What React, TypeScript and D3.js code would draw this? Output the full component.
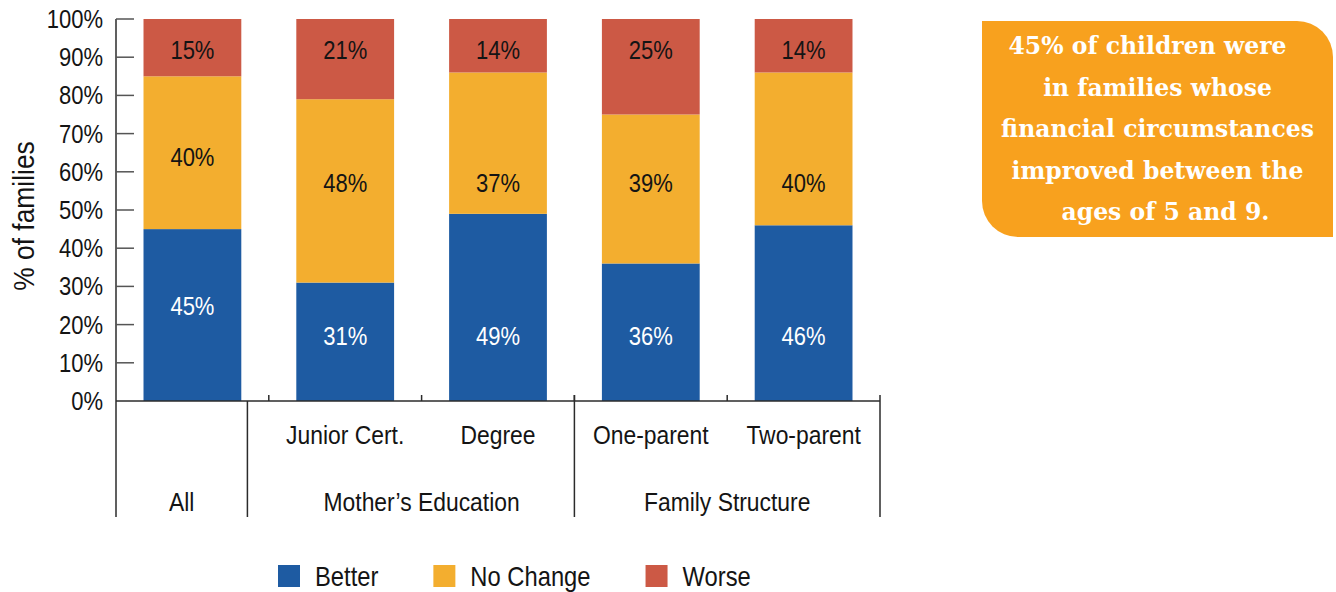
import React, { useEffect, useRef } from "react";
import * as d3 from "d3";

// chart data
const categories = ["All", "Junior Cert.", "Degree", "One-parent", "Two-parent"];
const betterValues = [45, 31, 49, 36, 46];
const noChangeValues = [40, 48, 37, 39, 40];
const worseValues = [15, 21, 14, 25, 14];
const seriesNames = ["Better", "No Change", "Worse"];
const seriesColors = ["#1e5ba2", "#f3ae2f", "#cc5945"];
const labelColors = ["#ffffff", "#141414", "#141414"];
const groupNames = ["All", "Mother\u2019s Education", "Family Structure"];
const groupMembers = [["All"], ["Junior Cert.", "Degree"], ["One-parent", "Two-parent"]];
const yTicks = [0, 10, 20, 30, 40, 50, 60, 70, 80, 90, 100];
const calloutLines = [
  "45% of children were",
  "in families whose",
  "financial circumstances",
  "improved between the",
  "ages of 5 and 9.",
];

const FONT = "'Liberation Sans', Arial, sans-serif";
const SX = 0.88; // squeeze the sans to look like a condensed face

// condensed text helper
function addText(
  parent: d3.Selection<any, unknown, null, undefined>,
  x: number,
  y: number,
  text: string,
  size: number,
  anchor = "middle",
  fill = "#141414",
  rotate = 0
) {
  return parent
    .append("text")
    .attr("transform", `translate(${x},${y}) rotate(${rotate}) scale(${SX},1)`)
    .attr("text-anchor", anchor)
    .style("font-family", FONT)
    .style("font-size", `${size}px`)
    .attr("fill", fill)
    .text(text);
}

const App: React.FC = () => {
  const svgRef = useRef<SVGSVGElement>(null);

  useEffect(() => {
    document.body.style.margin = "0";
    if (!svgRef.current) return;
    const svg = d3.select(svgRef.current);
    svg.selectAll("*").remove();

    const width = 1336;
    const height = 592;
    const left = 116;
    const right = 880;
    const top = 19;
    const bottom = 401;
    const axisBottom = 517;
    const axisColor = "#2b2b2b";

    svg.attr("width", width).attr("height", height);

    const x = d3.scaleBand<string>().domain(categories).range([left, right]).paddingInner(0.36).paddingOuter(0.18);
    const y = d3.scaleLinear().domain([0, 100]).range([bottom, top]);

    // stacked bars
    const rows = categories.map((c, i) => ({
      cat: c,
      Better: betterValues[i],
      "No Change": noChangeValues[i],
      Worse: worseValues[i],
    }));
    const stack = d3.stack<any>().keys(seriesNames)(rows);

    // labels sit at fixed heights in the original, the "All" column a bit higher
    const labelLevel = (si: number, cat: string) =>
      cat === "All" ? [25, 64, 92][si] : [17, 57, 92][si];

    stack.forEach((layer, si) => {
      const g = svg.append("g");
      layer.forEach((d) => {
        const cat = d.data.cat;
        g.append("rect")
          .attr("x", x(cat)!)
          .attr("y", y(d[1]))
          .attr("width", x.bandwidth())
          .attr("height", y(d[0]) - y(d[1]))
          .attr("fill", seriesColors[si]);
        addText(g, x(cat)! + x.bandwidth() / 2, y(labelLevel(si, cat)) + 9, `${d[1] - d[0]}%`, 25, "middle", labelColors[si]);
      });
    });

    // y axis
    svg.append("line")
      .attr("x1", left).attr("x2", left)
      .attr("y1", y(100)).attr("y2", axisBottom)
      .attr("stroke", axisColor).attr("stroke-width", 1.5);
    yTicks.forEach((t) => {
      if (t > 0) {
        svg.append("line")
          .attr("x1", left).attr("x2", left + 18)
          .attr("y1", y(t)).attr("y2", y(t))
          .attr("stroke", "#555").attr("stroke-width", 1.5);
      }
      addText(svg, 103, y(t) + 9, `${t}%`, 25, "end");
    });

    addText(svg, 34, (top + bottom) / 2 + 6, "% of families", 30, "middle", "#141414", -90);

    // x axis
    svg.append("line")
      .attr("x1", left).attr("x2", right)
      .attr("y1", bottom).attr("y2", bottom)
      .attr("stroke", axisColor).attr("stroke-width", 1.5);

    const step = x.step();
    const half = (step * x.paddingInner()) / 2;
    categories.slice(1).forEach((c) => {
      svg.append("line")
        .attr("x1", x(c)! - half).attr("x2", x(c)! - half)
        .attr("y1", bottom - 6).attr("y2", bottom)
        .attr("stroke", axisColor).attr("stroke-width", 1.5);
    });
    svg.append("line")
      .attr("x1", right).attr("x2", right)
      .attr("y1", bottom - 6).attr("y2", axisBottom)
      .attr("stroke", axisColor).attr("stroke-width", 1.5);

    groupNames.forEach((name, gi) => {
      const members = groupMembers[gi];
      const first = members[0];
      // group separator on the left (the first one sits a bit left of the band gap)
      let sepLeft = left;
      if (gi > 0) {
        sepLeft = x(first)! - half - (gi === 1 ? step * 0.14 : 0);
        svg.append("line")
          .attr("x1", sepLeft).attr("x2", sepLeft)
          .attr("y1", bottom - (gi === 1 ? 0 : 6)).attr("y2", axisBottom)
          .attr("stroke", axisColor).attr("stroke-width", 1.5);
      }
      let cx: number;
      if (members.length === 1) {
        const next = groupMembers[gi + 1][0];
        const sepRight = x(next)! - half - step * 0.14;
        cx = (sepLeft + sepRight) / 2;
      } else {
        cx = d3.mean(members, (m) => x(m)! + x.bandwidth() / 2)!;
        members.forEach((m) => {
          addText(svg, x(m)! + x.bandwidth() / 2, 444, m, 26);
        });
      }
      addText(svg, cx, 511, name, 26);
    });

    // legend
    const legend = svg.append("g");
    let lx = 278;
    seriesNames.forEach((s, i) => {
      legend.append("rect")
        .attr("x", lx).attr("y", 565)
        .attr("width", 22).attr("height", 22)
        .attr("fill", seriesColors[i]);
      const t = addText(legend, lx + 37, 586, s, 27, "start");
      const w = (t.node() as SVGTextElement).getComputedTextLength() * SX;
      lx += 37 + w + 55;
    });

    // callout box
    const bx0 = 982, bx1 = 1333, by0 = 21, by1 = 237, r = 36;
    svg.append("path")
      .attr("d", `M${bx0},${by0} H${bx1 - r} A${r},${r} 0 0 1 ${bx1},${by0 + r} V${by1} H${bx0 + r} A${r},${r} 0 0 1 ${bx0},${by1 - r} Z`)
      .attr("fill", "#f8a11e");
    const lineShift = [-10, 0, 0, 0, 8];
    calloutLines.forEach((line, i) => {
      svg.append("text")
        .attr("x", (bx0 + bx1) / 2 + lineShift[i])
        .attr("y", 54 + i * 41.5)
        .attr("text-anchor", "middle")
        .style("font-family", "'DejaVu Serif', serif")
        .style("font-weight", "bold")
        .style("font-size", "23.5px")
        .attr("fill", "#ffffff")
        .text(line);
    });
  }, []);

  return <svg ref={svgRef} style={{ display: "block" }} />;
};

export default App;
